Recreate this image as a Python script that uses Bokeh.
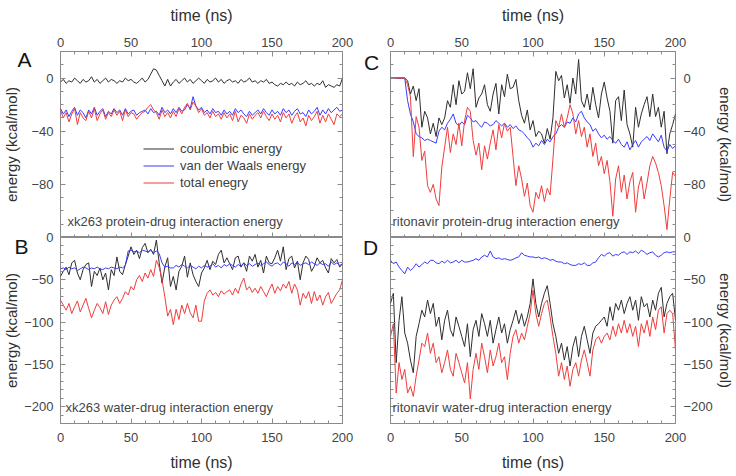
from bokeh.plotting import figure
from bokeh.models import Range1d, LinearAxis, FixedTicker, Label
from bokeh.layouts import row, column
from bokeh.embed import file_html
from bokeh.resources import INLINE

# ---------------- data (2 ns steps) ----------------
time_ns = list(range(0, 201, 2))

x_major = [0, 50, 100, 150, 200]
x_minor = list(range(0, 201, 10))
top_major = [-80, -40, 0]
top_minor = list(range(-120, 21, 10))
bot_major = [-200, -150, -100, -50, 0]
bot_minor = list(range(-220, 1, 10))

series_names = ["coulombic energy", "van der Waals energy", "total enegry"]
panel_letters = ["A", "B", "C", "D"]
panel_notes = ["xk263 protein-drug interaction energy",
               "xk263 water-drug interaction energy",
               "ritonavir protein-drug interaction energy",
               "ritonavir water-drug interaction energy"]

# A: xk263 protein-drug
a_coul = [-3, -1, -4, -2, -3, 0, -2, -4, -1, -3,
          -2, 1, -3, -1, -4, -2, 0, -3, -1, -2,
          -4, -2, -3, 0, -2, -1, -3, -4, -2, 0,
          -3, -1, 3, 7, 6, 2, -2, -6, -1, -6,
          -3, -1, -4, -2, 0, -3, -1, -4, -2, 0,
          -2, -4, -1, -3, -2, 0, -3, -1, -4, -2,
          -1, -3, -2, -4, -1, -3, -2, 0, -3, -2,
          -4, -2, -3, -1, -4, -3, -5, -6, -4, -5,
          -3, -5, -4, -6, -3, -5, -4, -2, -5, -4,
          -6, -4, -5, -2, -7, -5, -6, -7, -5, -6,
          0]
a_vdw = [-23, -27, -24, -29, -25, -22, -28, -24, -26, -30,
         -24, -27, -22, -28, -25, -23, -29, -25, -27, -23,
         -26, -24, -28, -23, -27, -25, -24, -28, -26, -25,
         -24, -27, -23, -26, -25, -28, -22, -26, -24, -27,
         -23, -26, -22, -25, -24, -20, -23, -14, -21, -24,
         -22, -26, -24, -27, -23, -26, -25, -28, -24, -27,
         -25, -28, -23, -26, -24, -27, -29, -25, -28, -26,
         -24, -27, -23, -26, -28, -24, -27, -25, -28, -23,
         -26, -24, -28, -25, -23, -27, -26, -29, -24, -27,
         -25, -22, -28, -24, -27, -23, -26, -24, -22, -25,
         -24]
a_tot = [-24, -30, -26, -33, -27, -23, -35, -26, -30, -32,
         -25, -30, -23, -32, -27, -24, -31, -26, -29, -24,
         -28, -25, -32, -24, -29, -26, -27, -31, -28, -26,
         -25, -22, -20, -24, -26, -31, -24, -29, -26, -30,
         -25, -29, -23, -27, -22, -19, -24, -18, -21, -26,
         -23, -28, -26, -30, -25, -29, -27, -31, -26, -30,
         -27, -32, -25, -33, -28, -30, -34, -27, -31, -28,
         -26, -30, -25, -29, -32, -27, -31, -28, -33, -26,
         -30, -27, -34, -29, -26, -33, -30, -36, -28, -32,
         -29, -25, -34, -28, -33, -27, -31, -35, -27, -29,
         -27]

# B: xk263 water-drug
b_coul = [-46, -40, -35, -44, -30, -27, -42, -50, -38, -32,
          -30, -58, -40, -45, -36, -50, -42, -62, -38, -45,
          -23, -40, -44, -32, -22, -11, -20, -15, -25, -12,
          -7, -18, -14, -20, -3, -30, -54, -35, -24, -58,
          -46, -62, -40, -34, -22, -47, -30, -44, -52, -58,
          -42, -36, -27, -38, -28, -32, -20, -15, -30, -24,
          -31, -38, -24, -22, -35, -30, -40, -22, -28, -20,
          -35, -27, -42, -22, -30, -31, -24, -15, -28, -11,
          -38, -25, -22, -36, -28, -50, -30, -22, -26, -40,
          -34, -24, -30, -27, -36, -42, -25, -30, -26, -35,
          -31]
b_vdw = [-37, -36, -38, -35, -37, -36, -39, -37, -35, -36,
         -38, -36, -37, -35, -37, -38, -36, -37, -35, -36,
         -37, -35, -36, -33, -16, -15, -17, -16, -18, -15,
         -16, -17, -15, -18, -16, -19, -30, -35, -34, -36,
         -36, -33, -35, -32, -34, -36, -33, -35, -37, -34,
         -36, -33, -35, -34, -31, -35, -33, -36, -32, -34,
         -31, -33, -35, -32, -34, -30, -33, -31, -34, -32,
         -30, -33, -31, -29, -32, -34, -31, -30, -33, -29,
         -31, -34, -30, -32, -29, -33, -31, -30, -32, -29,
         -31, -33, -30, -32, -31, -34, -29, -32, -30, -33,
         -31]
b_tot = [-74, -80, -86, -78, -90, -82, -75, -88, -80, -72,
         -84, -95, -86, -78, -83, -90, -76, -91, -80, -74,
         -70, -78, -72, -64, -68, -58, -62, -50, -45, -52,
         -42, -48, -38, -46, -27, -35, -50, -70, -93, -85,
         -103, -85, -97, -80, -90, -78, -89, -95, -80, -99,
         -99, -75, -66, -62, -68, -65, -70, -63, -67, -64,
         -62, -68, -60, -66, -55, -48, -62, -58, -65, -60,
         -66, -58, -64, -70, -62, -55, -66, -58, -63, -55,
         -60, -52, -66, -55, -62, -80, -66, -72, -64, -78,
         -64, -75, -68, -80, -70, -65, -78, -72, -66, -62,
         -50]

# C: ritonavir protein-drug
c_coul = [0, 0, 0, 0, 0, 0, -2, -12, -6, -17,
          -8, -37, -25, -30, -42, -34, -44, -30, -35, -30,
          -17, -22, -5, -20, -2, -12, -10, 4, -8, 7,
          -22, -15, -12, -5, -20, -25, -12, -4, -27, -5,
          -14, 3, -8, -7, -1, -17, -28, -34, -24, -39,
          -32, -44, -40, -42, -49, -38, -46, -30, 5, -2,
          2, -15, -5, -19, 0, -12, 14, -17, -22, -12,
          -24, -7, -20, -30, -12, -3, -15, -25, -49, -17,
          -14, -32, -9, -35, -42, -52, -22, -37, -27, -20,
          -14, -29, -12, -29, -22, -37, -25, -57, -42, -35,
          -27]
c_vdw = [0, 0, 0, 0, 0, 0, -17, -27, -33, -42,
         -44, -45, -47, -46, -47, -48, -49, -40, -37, -39,
         -34, -31, -27, -34, -36, -33, -35, -28, -30, -33,
         -32, -35, -37, -33, -34, -36, -35, -32, -34, -36,
         -34, -37, -35, -38, -36, -39, -40, -42, -45, -47,
         -52, -49, -51, -47, -50, -46, -48, -44, -42, -37,
         -35, -37, -33, -34, -30, -33, -27, -25, -30, -33,
         -35, -40, -38, -42, -45, -43, -46, -44, -47, -49,
         -46, -50, -52, -48, -54, -50, -47, -52, -48, -46,
         -44, -47, -42, -45, -48, -43, -52, -55, -50, -53,
         -51]
c_tot = [0, 0, 0, 0, 0, 0, -5, -14, -59, -29,
         -37, -62, -55, -81, -86, -80, -91, -96, -67, -52,
         -37, -56, -42, -50, -34, -51, -32, -22, -25, -47,
         -58, -49, -69, -51, -61, -49, -39, -54, -35, -45,
         -34, -40, -37, -59, -81, -66, -76, -89, -79, -96,
         -101, -86, -91, -81, -93, -83, -88, -61, -32, -37,
         -27, -37, -30, -20, -27, -42, -32, -44, -37, -52,
         -42, -59, -49, -66, -59, -72, -62, -78, -104, -76,
         -66, -86, -73, -91, -78, -71, -101, -82, -74, -91,
         -79, -66, -59, -64, -71, -81, -96, -114, -91, -71,
         -74]

# D: ritonavir water-drug
d_coul = [-78, -66, -148, -98, -70, -113, -125, -145, -160, -117,
          -102, -86, -94, -74, -90, -78, -105, -94, -121, -98,
          -86, -109, -117, -94, -105, -117, -129, -102, -141, -109,
          -98, -117, -90, -102, -117, -98, -125, -109, -94, -113,
          -102, -125, -109, -98, -86, -102, -90, -105, -94, -78,
          -49, -78, -94, -78, -66, -57, -78, -102, -117, -137,
          -125, -145, -129, -152, -129, -117, -141, -117, -105, -121,
          -137, -113, -105, -102, -98, -94, -105, -82, -98, -78,
          -86, -74, -90, -78, -70, -86, -74, -98, -70, -82,
          -78, -94, -74, -86, -66, -59, -94, -78, -70, -66,
          -98]
d_vdw = [-27, -31, -29, -35, -39, -43, -35, -39, -36, -31,
         -35, -32, -29, -31, -27, -27, -30, -31, -28, -30,
         -27, -30, -29, -27, -30, -27, -29, -29, -28, -27,
         -25, -27, -23, -21, -23, -16, -23, -25, -24, -26,
         -25, -26, -27, -26, -24, -23, -18, -21, -22, -23,
         -23, -24, -23, -25, -24, -25, -27, -26, -28, -29,
         -29, -31, -30, -32, -33, -33, -31, -32, -30, -33,
         -33, -30, -29, -24, -20, -22, -19, -18, -22, -20,
         -21, -18, -17, -20, -17, -18, -16, -19, -15, -17,
         -20, -18, -17, -21, -23, -21, -18, -17, -18, -17,
         -17]
d_tot = [-117, -102, -184, -148, -168, -156, -184, -176, -188, -164,
         -145, -125, -129, -113, -137, -125, -148, -141, -160, -148,
         -133, -156, -164, -137, -148, -160, -172, -148, -191, -156,
         -137, -156, -125, -141, -160, -133, -152, -141, -125, -148,
         -141, -168, -137, -117, -109, -125, -113, -121, -105, -90,
         -62, -90, -105, -90, -78, -74, -94, -117, -137, -164,
         -148, -168, -152, -176, -156, -148, -164, -145, -133, -148,
         -164, -133, -121, -117, -125, -117, -113, -121, -105, -117,
         -102, -113, -98, -113, -102, -117, -105, -129, -102, -113,
         -98, -117, -94, -109, -86, -82, -113, -90, -86, -90,
         -133]

# ---------------- styling ----------------
FONT = "Liberation Sans"
BLACK = "#2e2e2e"
BLUE = "#3a3aff"
RED = "#f03c3c"
FRAME = "#8a8a8a"
FW, FH = 285, 186
OVL = 10                     # overlap of lower panels onto upper panels
W_TOTAL, H_TOTAL = 736, 476


def style_axis(ax, labeled, title=None, lab_st=5, title_st=8, title_size="15px"):
    ax.axis_line_color = None
    ax.major_tick_in = 5
    ax.major_tick_out = 0
    ax.minor_tick_in = 3
    ax.minor_tick_out = 0
    ax.major_tick_line_color = FRAME
    ax.minor_tick_line_color = FRAME
    if labeled:
        ax.major_label_text_font = FONT
        ax.major_label_text_font_size = "13px"
        ax.major_label_text_color = "#454545"
        ax.major_label_standoff = lab_st
        ax.axis_label = title
        ax.axis_label_text_font = FONT
        ax.axis_label_text_font_size = title_size
        ax.axis_label_text_font_style = "normal"
        ax.axis_label_text_color = "#303030"
        ax.axis_label_standoff = title_st
    else:
        ax.major_label_text_font_size = "0px"
        ax.major_label_text_color = None
        ax.major_label_standoff = 0


def panel(yr, ymaj, ymin, coul, vdw, tot, y_side, x_side, borders,
          ylab_st, ytitle_st, xlab_st, xtitle_st, note, note_x, legend=False):
    left_b, right_b, top_b, bottom_b = borders
    p = figure(width=left_b + FW + right_b, height=top_b + FH + bottom_b,
               x_range=Range1d(0, 200), y_range=Range1d(*yr),
               x_axis_location=None, y_axis_location=None,
               toolbar_location=None, output_backend="svg",
               min_border_left=left_b, min_border_right=right_b,
               min_border_top=top_b, min_border_bottom=bottom_b)
    p.outline_line_color = FRAME
    p.outline_line_width = 1
    p.xgrid.visible = False
    p.ygrid.visible = False

    xt = FixedTicker(ticks=x_major, minor_ticks=x_minor)
    yt = FixedTicker(ticks=ymaj, minor_ticks=ymin)
    xa = LinearAxis(ticker=xt)
    style_axis(xa, True, "time (ns)", xlab_st, xtitle_st, "16px")
    p.add_layout(xa, x_side)
    if x_side == "above":
        xm = LinearAxis(ticker=xt)
        style_axis(xm, False)
        p.add_layout(xm, "below")
    ya = LinearAxis(ticker=yt)
    style_axis(ya, True, "energy (kcal/mol)", ylab_st, ytitle_st, "15px")
    p.add_layout(ya, y_side)
    ym = LinearAxis(ticker=yt)
    style_axis(ym, False)
    p.add_layout(ym, "right" if y_side == "left" else "left")

    if legend:
        p.line(time_ns, coul, color=BLACK, line_width=1, legend_label=series_names[0])
        p.line(time_ns, vdw, color=BLUE, line_width=1, legend_label=series_names[1])
        p.line(time_ns, tot, color=RED, line_width=1, legend_label=series_names[2])
        lg = p.legend[0]
        lg.location = (83, 46)
        lg.border_line_color = None
        lg.background_fill_alpha = 0
        lg.label_text_font = FONT
        lg.label_text_font_size = "13px"
        lg.label_text_color = "#404040"
        lg.glyph_width = 31
        lg.glyph_height = 17
        lg.label_height = 17
        lg.label_standoff = 6
        lg.spacing = 0
        lg.padding = 0
        lg.margin = 0
    else:
        p.line(time_ns, coul, color=BLACK, line_width=1)
        p.line(time_ns, vdw, color=BLUE, line_width=1)
        p.line(time_ns, tot, color=RED, line_width=1)

    p.add_layout(Label(x=note_x, y=16, x_units="screen", y_units="screen",
                       text=note, text_font=FONT, text_font_size="13px",
                       text_color="#454545", text_baseline="middle",
                       text_align="left"))
    return p


# borders: left, right, top, bottom
pa = panel((-120, 20), top_major, top_minor, a_coul, a_vdw, a_tot,
           "left", "above", (57, 24, 51, 0), 7, 8, 5, 11,
           panel_notes[0], 7, legend=True)
pb = panel((-220, 0), bot_major, bot_minor, b_coul, b_vdw, b_tot,
           "left", "below", (57, 24, OVL, 53), 7, 1, 9, 9,
           panel_notes[1], 5)
pc = panel((-120, 20), top_major, top_minor, c_coul, c_vdw, c_tot,
           "right", "above", (24, 61, 51, 0), 8, 8, 5, 11,
           panel_notes[2], 2)
pd = panel((-220, 0), bot_major, bot_minor, d_coul, d_vdw, d_tot,
           "right", "below", (24, 61, OVL, 53), 8, 1, 9, 9,
           panel_notes[3], 2)

for q in (pb, pd):
    q.margin = (-OVL, 0, 0, 0)
    q.border_fill_color = None

# transparent overlay carrying the panel letters (outside the panel frames)
ov = figure(width=W_TOTAL, height=H_TOTAL, x_range=Range1d(0, W_TOTAL),
            y_range=Range1d(0, H_TOTAL), x_axis_location=None,
            y_axis_location=None, toolbar_location=None, output_backend="svg",
            min_border=0, outline_line_color=None,
            background_fill_color=None, border_fill_color=None)
ov.xgrid.visible = False
ov.ygrid.visible = False
letter_pos = [(24, 417), (21, 230), (371, 414), (370, 229)]
for txt, (lx, ly) in zip(panel_letters, letter_pos):
    ov.add_layout(Label(x=lx, y=ly, x_units="screen", y_units="screen",
                        text=txt, text_font=FONT, text_font_size="21px",
                        text_color="#151515", text_baseline="middle",
                        text_align="center"))
ov.margin = (-H_TOTAL, 0, 0, 0)

layout = column(row(column(pa, pb), column(pc, pd)), ov)
open("out.html", "w").write(file_html(layout, INLINE))
